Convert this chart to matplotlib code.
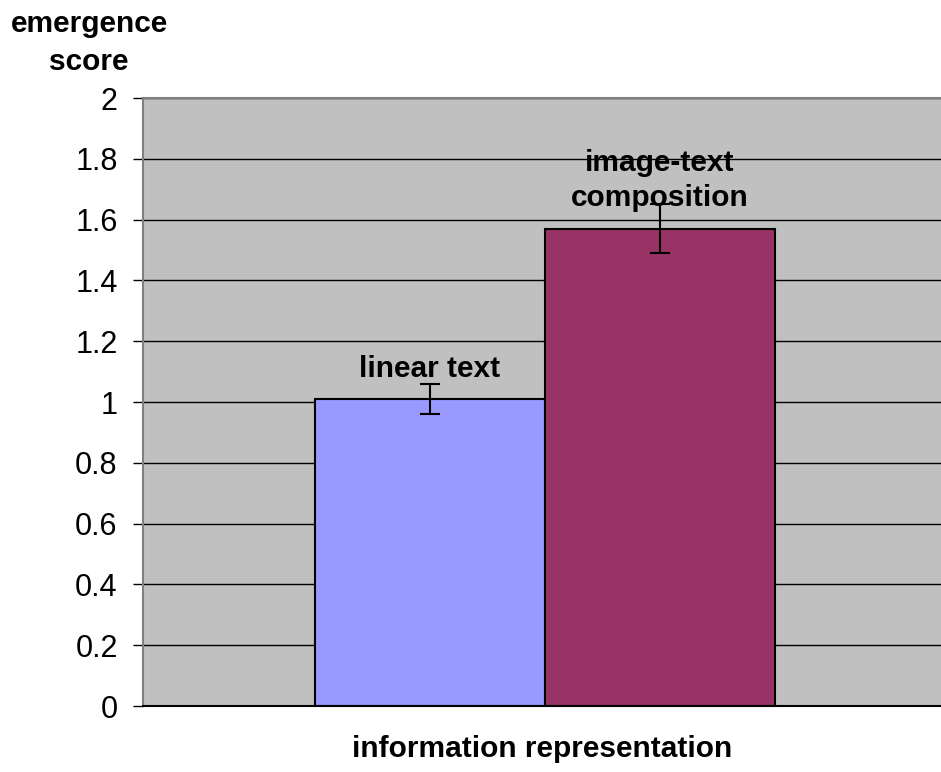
import matplotlib.pyplot as plt

categories = ['linear text', 'image-text\ncomposition']
scores = [1.01, 1.57]
errors = [0.05, 0.08]
bar_colors = ['#9999FF', '#993366']
y_ticks = [0, 0.2, 0.4, 0.6, 0.8, 1, 1.2, 1.4, 1.6, 1.8, 2]
y_tick_labels = ['0', '0.2', '0.4', '0.6', '0.8', '1', '1.2', '1.4', '1.6', '1.8', '2']

plt.rcParams['font.family'] = ['Liberation Sans', 'DejaVu Sans']

fig = plt.figure(figsize=(9.41, 7.72), dpi=100)
ax = fig.add_axes([143 / 941, 66 / 772, 798 / 941, 608 / 772])
ax.set_facecolor('#C0C0C0')

xs = list(range(len(categories)))
ax.bar(xs, scores, width=1.0, color=bar_colors, edgecolor='black', linewidth=1.5, zorder=2)
ax.errorbar(xs, scores, yerr=errors, fmt='none', ecolor='black', elinewidth=1.5,
            capsize=7, capthick=1.5, zorder=3)

for x, s, name in zip(xs, scores, categories):
    ax.annotate(name, (x, s), xytext=(0, 16), textcoords='offset points',
                ha='center', va='baseline', fontsize=21.5, fontweight='bold',
                linespacing=1.35, zorder=4)

ax.set_ylim(0, 2)
ax.set_xlim(-1.246, 2.224)
ax.set_yticks(y_ticks)
ax.set_yticklabels(y_tick_labels, fontsize=22)
ax.set_xticks([])
ax.yaxis.grid(True, color='black', linewidth=1)
ax.set_axisbelow(True)
ax.tick_params(axis='y', length=7.2, width=1, color='black', pad=11)

ax.spines['right'].set_visible(False)
ax.spines['top'].set_color('#808080')
ax.spines['top'].set_linewidth(1.5)
ax.spines['left'].set_color('#808080')
ax.spines['left'].set_linewidth(1.5)
ax.spines['bottom'].set_color('black')
ax.spines['bottom'].set_linewidth(1.5)

fig.text(89 / 941, 1 - 70 / 772, 'emergence\nscore', ha='center', va='baseline',
         fontsize=21.5, fontweight='bold', linespacing=1.45)
fig.text(542 / 941, 1 - 757 / 772, 'information representation', ha='center',
         va='baseline', fontsize=21.5, fontweight='bold')

fig.savefig('out.png', dpi=100)
